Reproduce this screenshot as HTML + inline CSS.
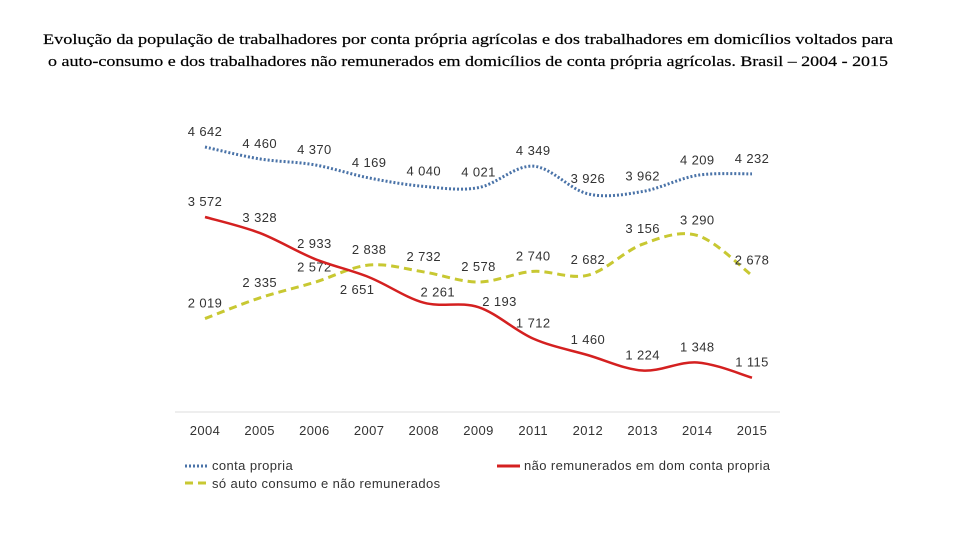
<!DOCTYPE html>
<html><head><meta charset="utf-8"><style>
body{margin:0;background:#fff;}
svg{display:block;}
.t{font-family:"Liberation Serif",serif;font-size:15px;fill:#000;stroke:#000;stroke-width:0.2px;}
.l{font-family:"Liberation Sans",sans-serif;font-size:13px;fill:#333;letter-spacing:0.4px;}
</style></head><body>
<svg width="960" height="540">
<text class="t" x="43" y="44" textLength="850" lengthAdjust="spacingAndGlyphs">Evolução da população de trabalhadores por conta própria agrícolas e dos trabalhadores em domicílios voltados para</text>
<text class="t" x="48" y="66" textLength="840" lengthAdjust="spacingAndGlyphs">o auto-consumo e dos trabalhadores não remunerados em domicílios de conta própria agrícolas. Brasil – 2004 - 2015</text>
<line x1="175" y1="412" x2="780" y2="412" stroke="#ddd"/>
<g id="plot"></g>
<g>
<line x1="185" y1="466" x2="208" y2="466" stroke="#4a73a8" stroke-width="3" stroke-dasharray="2,2"/>
<text class="l" x="212" y="470">conta propria</text>
<line x1="185" y1="483" x2="208" y2="483" stroke="#c8c832" stroke-width="3" stroke-dasharray="8,5"/>
<text class="l" x="212" y="488">só auto consumo e não remunerados</text>
<line x1="497" y1="466" x2="520" y2="466" stroke="#d42020" stroke-width="3"/>
<text class="l" x="524" y="470">não remunerados em dom conta propria</text>
</g>
</svg>
<script>
const categories=["2004","2005","2006","2007","2008","2009","2011","2012","2013","2014","2015"];
const contaPropria=[4642,4460,4370,4169,4040,4021,4349,3926,3962,4209,4232];
const autoConsumo=[2019,2335,2572,2838,2732,2578,2740,2682,3156,3290,2678];
const naoRemunerados=[3572,3328,2933,2651,2261,2193,1712,1460,1224,1348,1115];
const labelDx={red:[0,0,0,-12,14,21,0,0,0,0,0]};
const labelDy={red:[0,0,0,28,5,10,0,0,0,0,0]};
const NS="http://www.w3.org/2000/svg";
const plot=document.getElementById('plot');
function xs(i){return 205+i*54.7;}
function ys(v){return 450.6-v*0.0654;}
function path(vals){
  const p=vals.map((v,i)=>[xs(i),ys(v)]);
  let d="M"+p[0][0]+","+p[0][1];
  for(let i=0;i<p.length-1;i++){
    const p0=p[i-1]||p[i],p1=p[i],p2=p[i+1],p3=p[i+2]||p2;
    const c1=[p1[0]+(p2[0]-p0[0])/6,p1[1]+(p2[1]-p0[1])/6];
    const c2=[p2[0]-(p3[0]-p1[0])/6,p2[1]-(p3[1]-p1[1])/6];
    d+=" C"+c1+" "+c2+" "+p2;
  }
  return d;
}
function fmt(v){const s=String(v);return s.length>3?s.slice(0,-3)+" "+s.slice(-3):s;}
function series(vals,name,color,dash,w,key){
  const el=document.createElementNS(NS,'path');
  el.setAttribute('d',path(vals));el.setAttribute('fill','none');
  el.setAttribute('stroke',color);el.setAttribute('stroke-width',w);
  if(dash)el.setAttribute('stroke-dasharray',dash);
  
  
  plot.appendChild(el);
  vals.forEach((v,i)=>{
    const t=document.createElementNS(NS,'text');
    const dx=(labelDx[key]||[])[i]||0, dy=(labelDy[key]||[])[i]||0;
    t.setAttribute('x',xs(i)+dx);t.setAttribute('y',ys(v)-11+dy);
    t.setAttribute('text-anchor','middle');t.setAttribute('class','l');
    t.textContent=fmt(v);
    
    
    plot.appendChild(t);
  });
}
series(contaPropria,'conta-propria','#4a73a8','2,2',3,'blue');
series(autoConsumo,'auto-consumo','#c8c832','8,5',3,'yellow');
series(naoRemunerados,'nao-remunerados','#d42020',null,2.5,'red');
categories.forEach((c,i)=>{
  const t=document.createElementNS(NS,'text');
  t.setAttribute('x',xs(i));t.setAttribute('y',435);
  t.setAttribute('text-anchor','middle');t.setAttribute('class','l');
  t.textContent=c;
  
  
  plot.appendChild(t);
});
</script>
</body></html>
